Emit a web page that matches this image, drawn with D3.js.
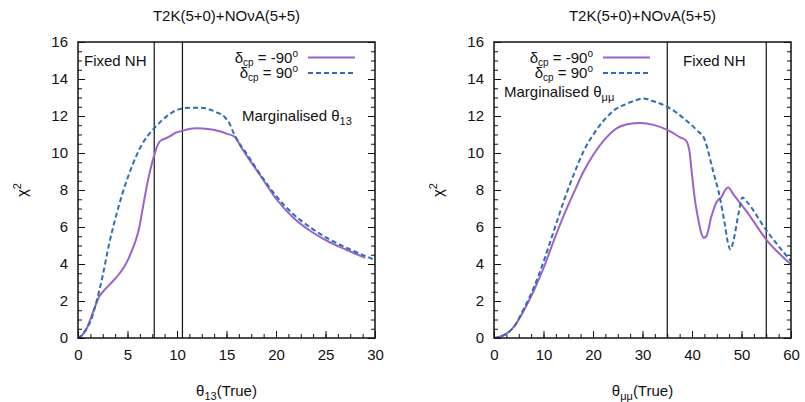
<!DOCTYPE html>
<html>
<head>
<meta charset="utf-8">
<script src="https://cdn.jsdelivr.net/npm/d3@7"></script>
<style>
  body { margin: 0; background: #fff; }
  text { font-family: "Liberation Sans", Arial, sans-serif; fill: #111; }
</style>
</head>
<body>
<div id="chart"></div>
<script>
// ---- data ----
const title = "T2K(5+0)+NOνA(5+5)";
const yTicks = [0, 2, 4, 6, 8, 10, 12, 14, 16];
const leftXTicks = [0, 5, 10, 15, 20, 25, 30];
const rightXTicks = [0, 10, 20, 30, 40, 50, 60];
const leftVLines = [7.7, 10.55];
const rightVLines = [35, 55];

// theta13 panel, delta_cp = -90
const leftM90X = [0, 0.4, 0.78, 1.1, 1.45, 1.8, 2.1, 2.6, 3.1, 3.6, 4.15, 4.7, 5.16, 5.5, 5.83, 6.2, 6.5, 7.0, 7.4, 7.69, 7.95, 8.2, 8.45, 8.7, 9.2, 9.88, 10.55, 11.2, 12.0, 12.6, 13.65, 14.3, 15.0, 15.84, 16.5, 17.36, 18.4, 20.05, 21.7, 23.4, 25.1, 27.1, 29.0];
const leftM90Y = [0, 0.15, 0.4, 0.8, 1.3, 1.8, 2.2, 2.55, 2.83, 3.12, 3.46, 3.88, 4.36, 4.8, 5.27, 6.0, 6.9, 8.34, 9.3, 9.86, 10.3, 10.58, 10.7, 10.76, 10.88, 11.1, 11.2, 11.3, 11.34, 11.33, 11.26, 11.18, 11.05, 10.87, 10.3, 9.6, 8.8, 7.5, 6.53, 5.81, 5.27, 4.77, 4.33];
// theta13 panel, delta_cp = 90
const leftP90X = [0, 0.4, 0.78, 1.3, 1.8, 2.46, 3.14, 3.81, 4.48, 5.16, 5.83, 6.5, 7.0, 7.5, 8.5, 9.88, 11.2, 12.2, 13.0, 14.0, 14.8, 15.3, 15.7, 16.0, 17.0, 18.4, 20.05, 21.7, 23.4, 25.1, 27.1, 30.0];
const leftP90Y = [0, 0.15, 0.45, 0.94, 1.84, 3.28, 5.08, 6.53, 7.79, 8.87, 9.77, 10.5, 10.9, 11.22, 11.77, 12.3, 12.45, 12.45, 12.4, 12.2, 11.95, 11.6, 11.1, 10.78, 9.98, 8.85, 7.65, 6.72, 6.0, 5.42, 4.88, 4.22];

// theta_mumu panel, delta_cp = -90
const rightM90X = [0, 2, 4, 6.06, 8.08, 10.1, 12.1, 14.1, 16.2, 18.2, 20.2, 22.2, 24.2, 26.9, 29.6, 32.2, 35, 37.6, 38.8, 39.5, 39.9, 40.6, 41.3, 41.9, 42.4, 42.9, 43.9, 45.0, 46.0, 46.7, 47.3, 48.4, 51.1, 55, 60];
const rightM90Y = [0, 0.15, 0.6, 1.5, 2.58, 3.84, 5.28, 6.63, 7.9, 9.05, 9.96, 10.68, 11.22, 11.55, 11.62, 11.52, 11.25, 10.85, 10.67, 10.07, 9.08, 7.45, 6.37, 5.65, 5.42, 5.5, 6.55, 7.36, 7.64, 8.0, 8.14, 7.75, 6.82, 5.32, 3.98];
// theta_mumu panel, delta_cp = 90
const rightP90X = [0, 2, 4, 6.06, 8.08, 10.1, 12.1, 14.1, 16.2, 18.2, 20.2, 22.2, 24.2, 26.9, 29, 30.1, 32.2, 35, 38.3, 40.9, 42.6, 43.2, 44.2, 45.6, 46.6, 47.3, 47.8, 48.4, 49.4, 50.2, 51.1, 55, 60];
const rightP90Y = [0, 0.15, 0.6, 1.6, 2.75, 4.2, 5.8, 7.4, 8.9, 10.15, 11.05, 11.77, 12.3, 12.67, 12.88, 12.95, 12.8, 12.5, 11.88, 11.25, 10.7, 10.16, 9.08, 7.64, 6.19, 5.1, 4.78, 5.29, 6.73, 7.6, 7.36, 5.83, 4.15];

const purple = "#9c62cc";
const blue = "#2f6db5";

const svg = d3.select("#chart").append("svg")
  .attr("width", 805)
  .attr("height", 402);

function zip(xs, ys) {
  return xs.map((x, i) => [x, ys[i]]);
}

function drawPanel(p) {
  const x = d3.scaleLinear().domain([0, p.xMax]).range([p.left, p.right]);
  const y = d3.scaleLinear().domain([0, 16]).range([338, 42]);
  const g = svg.append("g");

  const minorX = d3.range(0, p.xMax + 0.001, p.xMinor);
  const minorY = d3.range(0, 16.001, 0.5);

  // minor ticks (inward)
  g.append("g").attr("transform", `translate(0,338)`)
    .call(d3.axisBottom(x).tickValues(minorX).tickSize(-4).tickSizeOuter(0).tickFormat(""));
  g.append("g").attr("transform", `translate(${p.left},0)`)
    .call(d3.axisLeft(y).tickValues(minorY).tickSize(-4).tickSizeOuter(0).tickFormat(""));
  g.append("g").attr("transform", `translate(${p.right},0)`)
    .call(d3.axisRight(y).tickValues(minorY).tickSize(-4).tickSizeOuter(0).tickFormat(""));

  // major ticks + labels
  g.append("g").attr("transform", `translate(0,338)`)
    .call(d3.axisBottom(x).tickValues(p.xTicks).tickSize(-7).tickSizeOuter(0).tickPadding(11));
  g.append("g").attr("transform", `translate(${p.left},0)`)
    .call(d3.axisLeft(y).tickValues(yTicks).tickSize(-7).tickSizeOuter(0).tickPadding(10));
  g.append("g").attr("transform", `translate(${p.right},0)`)
    .call(d3.axisRight(y).tickValues(yTicks).tickSize(-7).tickSizeOuter(0).tickFormat(""));

  g.selectAll(".domain").remove();
  g.selectAll(".tick line").attr("stroke", "#111").attr("stroke-width", 1);
  g.selectAll(".tick text").attr("font-size", 15).attr("fill", "#111")
    .style("font-family", '"Liberation Sans", Arial, sans-serif');

  // vertical marker lines
  g.selectAll("line.vl").data(p.vLines).enter().append("line")
    .attr("class", "vl")
    .attr("x1", d => x(d)).attr("x2", d => x(d))
    .attr("y1", y(0)).attr("y2", y(16))
    .attr("stroke", "#111").attr("stroke-width", 1.2);

  const line = d3.line().x(d => x(d[0])).y(d => y(d[1])).curve(d3.curveMonotoneX);

  g.append("path").datum(zip(p.m90x, p.m90y))
    .attr("d", line).attr("fill", "none")
    .attr("stroke", purple).attr("stroke-width", 2);
  g.append("path").datum(zip(p.p90x, p.p90y))
    .attr("d", line).attr("fill", "none")
    .attr("stroke", blue).attr("stroke-width", 2)
    .attr("stroke-dasharray", "5,3");

  // frame
  g.append("rect")
    .attr("x", p.left).attr("y", 42)
    .attr("width", p.right - p.left).attr("height", 296)
    .attr("fill", "none").attr("stroke", "#111").attr("stroke-width", 1.5);

  // title
  g.append("text").attr("x", (p.left + p.right) / 2).attr("y", 21)
    .attr("text-anchor", "middle").attr("font-size", 15).text(title);

  // x label
  const xl = g.append("text").attr("x", (p.left + p.right) / 2).attr("y", 396)
    .attr("text-anchor", "middle").attr("font-size", 15);
  xl.append("tspan").text("θ");
  xl.append("tspan").attr("dy", 4).attr("font-size", 11).text(p.xSub);
  xl.append("tspan").attr("dy", -4).text("(True)");

  // y label
  const yl = g.append("text")
    .attr("transform", `translate(${p.left - 51},190) rotate(-90)`)
    .attr("text-anchor", "middle").attr("font-size", 15);
  yl.append("tspan").text("χ");
  yl.append("tspan").attr("dy", -6).attr("font-size", 11).text("2");

  // legend
  const rows = [
    { label: "-90", base: 63, ly: 57.5, color: purple, dash: null },
    { label: "90", base: 78, ly: 73, color: blue, dash: "5,3" }
  ];
  rows.forEach(r => {
    const t = g.append("text").attr("x", p.legendEnd).attr("y", r.base)
      .attr("text-anchor", "end").attr("font-size", 15);
    t.append("tspan").text("δ");
    t.append("tspan").attr("dy", 3).attr("font-size", 10).text("cp");
    t.append("tspan").attr("dy", -3).text(" = " + r.label);
    t.append("tspan").attr("dy", -6).attr("font-size", 10).text("o");
    g.append("line")
      .attr("x1", p.legendEnd + 10).attr("x2", p.legendEnd + 57)
      .attr("y1", r.ly).attr("y2", r.ly)
      .attr("stroke", r.color).attr("stroke-width", 2)
      .attr("stroke-dasharray", r.dash);
  });

  g.append("text").attr("x", p.fixedX).attr("y", 66)
    .attr("font-size", 15).text("Fixed NH");

  const m = g.append("text").attr("x", p.margX).attr("y", p.margY).attr("font-size", 15);
  m.append("tspan").text("Marginalised θ");
  m.append("tspan").attr("dy", 4).attr("font-size", 11).text(p.xSub);
}

drawPanel({
  left: 78, right: 375, xMax: 30, xMinor: 1.25, xTicks: leftXTicks,
  vLines: leftVLines, m90x: leftM90X, m90y: leftM90Y, p90x: leftP90X, p90y: leftP90Y,
  xSub: "13", legendEnd: 298, fixedX: 84, margX: 242, margY: 121
});

drawPanel({
  left: 494, right: 791, xMax: 60, xMinor: 2.5, xTicks: rightXTicks,
  vLines: rightVLines, m90x: rightM90X, m90y: rightM90Y, p90x: rightP90X, p90y: rightP90Y,
  xSub: "μμ", legendEnd: 593, fixedX: 683, margX: 504, margY: 97
});
</script>
</body>
</html>
